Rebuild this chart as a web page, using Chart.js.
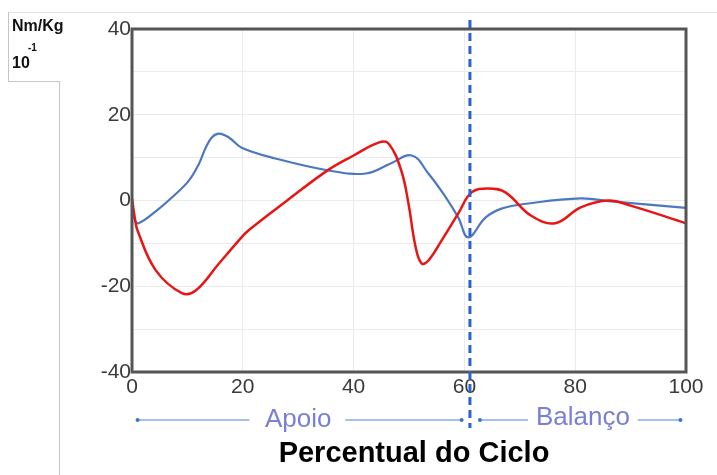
<!DOCTYPE html>
<html>
<head>
<meta charset="utf-8">
<script src="https://cdn.jsdelivr.net/npm/chart.js@4/dist/chart.umd.min.js"></script>
<style>
  html, body { margin: 0; padding: 0; background: #fff; }
  #wrap { position: relative; width: 717px; height: 475px; overflow: hidden; font-family: "Liberation Sans", Arial, sans-serif; }
  #c { position: absolute; left: 0; top: 0; }
  .ln { position: absolute; background: #c8c4c0; }
  .lbl { position: absolute; font-weight: bold; color: #111; }
</style>
</head>
<body>
<div id="wrap">
  <canvas id="c" width="717" height="475"></canvas>
  <div class="ln" style="left:8px; top:12px; width:709px; height:1px; background:#e2e2e2;"></div>
  <div class="ln" style="left:8px; top:12px; width:1px; height:70px;"></div>
  <div class="ln" style="left:8px; top:81px; width:52px; height:1px;"></div>
  <div class="ln" style="left:59px; top:81px; width:1px; height:394px;"></div>
  <div class="lbl" style="left:12px; top:17px; font-size:16px;">Nm/Kg</div>
  <div class="lbl" style="left:12px; top:54px; font-size:16px;">10</div>
  <div class="lbl" style="left:28px; top:42px; font-size:10px;">-1</div>
</div>
<script>
// ---- data ----
const blueX = [0, 0.5, 1.2, 4.5, 7.2, 10.3, 12.1, 13.3, 14.4, 15.7, 17.5, 19.8, 25.9, 35.5, 42.2, 46.5, 50.5, 53.5, 56.5, 58.9, 60.7, 63.8, 66.7, 71.5, 81, 86.5, 100];
const blueY = [-1, -4.5, -5.3, -2.3, 0.7, 4.7, 8.6, 12.3, 14.7, 15.6, 14.7, 12.3, 9.8, 7.0, 6.3, 8.5, 10.5, 6.3, 1, -4, -8.6, -4, -1.9, -0.7, 0.5, -0.2, -1.7];
const redX = [0, 0.5, 1, 4.3, 9, 11.5, 15.7, 19.3, 21, 28, 35.5, 40, 44.5, 46.3, 48.6, 49.9, 51.2, 52.3, 53.5, 55.9, 58.9, 61.3, 64.3, 67.4, 72, 76.4, 81, 86, 90, 100];
const redY = [0.5, -4, -7, -16.3, -21.6, -21, -14.7, -9.3, -7, 0, 7.2, 10.5, 13.5, 13.3, 7, -0.7, -10.9, -14.7, -14, -9.3, -3, 1.9, 2.8, 1.9, -3.5, -5.3, -1.6, 0, -1.2, -5.3];
const xTicks = [0, 20, 40, 60, 80, 100];
const yTicks = [-40, -20, 0, 20, 40];
const phaseSplit = 61;
const phaseLabels = ["Apoio", "Balanço"];
const xTitle = "Percentual do Ciclo";

const pts = (xs, ys) => xs.map((x, i) => ({ x: x, y: ys[i] }));

const overlay = {
  id: 'overlay',
  afterDraw(chart) {
    const ctx = chart.ctx;
    const xs = chart.scales.x, ca = chart.chartArea;
    ctx.save();
    // plot box
    ctx.strokeStyle = '#555';
    ctx.lineWidth = 3;
    ctx.strokeRect(ca.left, ca.top, ca.right - ca.left, ca.bottom - ca.top);
    // phase separator
    const sx = xs.getPixelForValue(phaseSplit);
    ctx.strokeStyle = '#2b62d0';
    ctx.lineWidth = 3;
    ctx.setLineDash([8, 5]);
    ctx.beginPath(); ctx.moveTo(sx, 20); ctx.lineTo(sx, 428); ctx.stroke();
    ctx.setLineDash([]);
    // phase arrows
    const yA = 420;
    ctx.strokeStyle = '#4a86d0';
    ctx.fillStyle = '#3a76c8';
    ctx.lineWidth = 1;
    const seg = (a, b) => {
      const pa = xs.getPixelForValue(a), pb = xs.getPixelForValue(b);
      ctx.beginPath(); ctx.moveTo(pa, yA); ctx.lineTo(pb, yA); ctx.stroke();
    };
    const dot = (v) => { const p = xs.getPixelForValue(v); ctx.beginPath(); ctx.arc(p, yA, 2, 0, Math.PI * 2); ctx.fill(); };
    seg(1, 21.2); seg(38.5, 59.5); dot(1); dot(59.5);
    seg(62.8, 71.5); seg(91.3, 99); dot(62.8); dot(99);
    ctx.fillStyle = '#7a7fd6';
    ctx.font = '26px "Liberation Sans", Arial, sans-serif';
    ctx.textAlign = 'center'; ctx.textBaseline = 'middle';
    ctx.fillText(phaseLabels[0], xs.getPixelForValue(30), yA);
    ctx.fillText(phaseLabels[1], xs.getPixelForValue(81.4), yA - 2);
    // axis title
    ctx.fillStyle = '#000';
    ctx.font = 'bold 29px "Liberation Sans", Arial, sans-serif';
    ctx.fillText(xTitle, 414, 454);
    ctx.restore();
  }
};

new Chart(document.getElementById('c'), {
  type: 'line',
  data: {
    datasets: [
      { data: pts(redX, redY), borderColor: '#e81515', borderWidth: 2.5, pointRadius: 0, tension: 0.4, fill: false },
      { data: pts(blueX, blueY), borderColor: '#4d78bf', borderWidth: 2.2, pointRadius: 0, tension: 0.4, fill: false }
    ]
  },
  options: {
    responsive: false,
    animation: false,
    layout: { padding: { top: 29, right: 31, left: 0, bottom: 0 } },
    plugins: { legend: { display: false }, tooltip: { enabled: false } },
    scales: {
      x: {
        type: 'linear', min: 0, max: 100,
        afterFit: (s) => { s.height = 103; },
        afterBuildTicks: (s) => { s.ticks = xTicks.map(v => ({ value: v })); },
        grid: { color: '#ebebeb', lineWidth: 1, drawTicks: false },
        border: { display: false },
        ticks: { color: '#3a3a3a', font: { size: 21, family: '"Liberation Sans", Arial, sans-serif' }, padding: 3, maxRotation: 0 }
      },
      y: {
        type: 'linear', min: -40, max: 40,
        afterFit: (s) => { s.width = 132; },
        ticks: {
          stepSize: 10,
          color: '#3a3a3a', font: { size: 21, family: '"Liberation Sans", Arial, sans-serif' }, padding: 1,
          callback: (v) => yTicks.includes(v) ? String(v) : ''
        },
        grid: { color: '#ebebeb', lineWidth: 1, drawTicks: false },
        border: { display: false }
      }
    }
  },
  plugins: [overlay]
});
</script>
</body>
</html>
